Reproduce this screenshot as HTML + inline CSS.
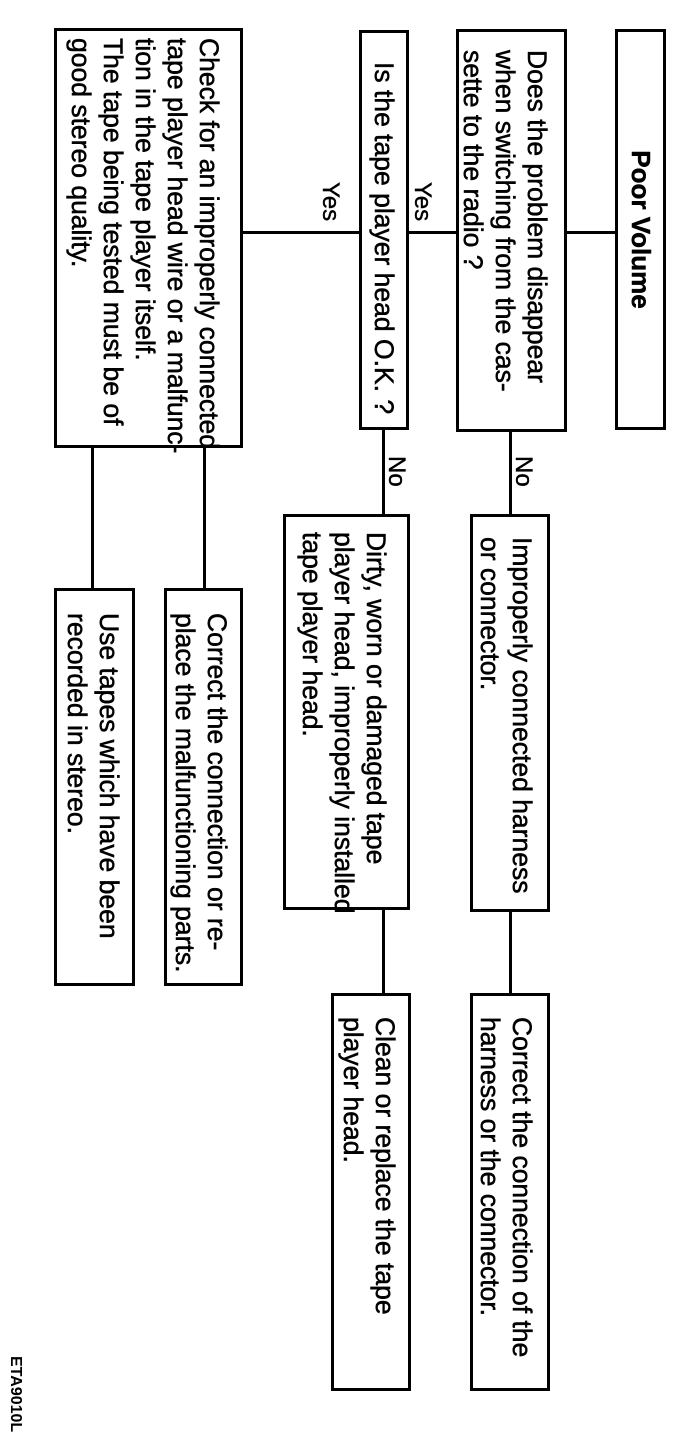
<!DOCTYPE html>
<html><head><meta charset="utf-8"><style>
body{margin:0;background:#fff;}
#c{position:relative;width:674px;height:1456px;overflow:hidden;background:#fff;font-family:"Liberation Sans",Arial,sans-serif;color:#000;}
.b{position:absolute;border:3px solid #000;box-sizing:border-box;}
.t{position:absolute;transform-origin:0 0;transform:rotate(90deg);font-size:26.5px;line-height:32px;white-space:nowrap;box-sizing:border-box;-webkit-text-stroke:0.5px #000;}
.l{position:absolute;background:#000;}
.lab{position:absolute;transform-origin:0 0;transform:rotate(90deg);font-size:24px;line-height:22px;white-space:nowrap;-webkit-text-stroke:0.4px #000;}
</style></head><body><div id="c">
<div class="b" style="left:615px;top:29px;width:51px;height:401px"></div>
<div class="t" style="left:666px;top:29px;width:401px;height:51px;text-align:center;font-weight:bold;font-size:26px;padding-top:9px">Poor Volume</div>

<div class="b" style="left:456px;top:29px;width:111px;height:403px"></div>
<div class="t" style="left:567px;top:29px;width:403px;height:111px;padding:14px 0 0 21px">Does the problem disappear<br>when switching from the cas-<br>sette to the radio ?</div>

<div class="b" style="left:359px;top:30px;width:50px;height:400px"></div>
<div class="t" style="left:409px;top:30px;width:400px;height:50px;padding:9px 0 0 32px">Is the tape player head O.K. ?</div>

<div class="b" style="left:54px;top:28px;width:189px;height:420px"></div>
<div class="t" style="left:243px;top:28px;width:420px;height:189px;padding:18px 0 0 10px">Check for an improperly connected<br>tape player head wire or a malfunc-<br>tion in the tape player itself.<br>The tape being tested must be of<br>good stereo quality.</div>

<div class="b" style="left:470px;top:514px;width:80px;height:398px"></div>
<div class="t" style="left:550px;top:514px;width:398px;height:80px;padding:12px 0 0 23px">Improperly connected harness<br>or connector.</div>

<div class="b" style="left:283px;top:514px;width:127px;height:396px"></div>
<div class="t" style="left:410px;top:514px;width:396px;height:127px;padding:18px 0 0 18px">Dirty, worn or damaged tape<br>player head, improperly installed<br>tape player head.</div>

<div class="b" style="left:164px;top:588px;width:79px;height:398px"></div>
<div class="t" style="left:243px;top:588px;width:398px;height:79px;padding:10px 0 0 25px">Correct the connection or re-<br>place the malfunctioning parts.</div>

<div class="b" style="left:54px;top:588px;width:81px;height:398px"></div>
<div class="t" style="left:135px;top:588px;width:398px;height:81px;padding:10px 0 0 25px">Use tapes which have been<br>recorded in stereo.</div>

<div class="b" style="left:470px;top:993px;width:80px;height:398px"></div>
<div class="t" style="left:550px;top:993px;width:398px;height:80px;padding:12px 0 0 24px">Correct the connection of the<br>harness or the connector.</div>

<div class="b" style="left:331px;top:993px;width:80px;height:398px"></div>
<div class="t" style="left:411px;top:993px;width:398px;height:80px;padding:10px 0 0 24px">Clean or replace the tape<br>player head.</div>

<div class="l" style="left:567px;top:231px;width:48px;height:3px"></div>
<div class="l" style="left:409px;top:231px;width:47px;height:3px"></div>
<div class="l" style="left:243px;top:231px;width:116px;height:3px"></div>
<div class="l" style="left:509px;top:432px;width:3px;height:82px"></div>
<div class="l" style="left:382px;top:430px;width:3px;height:84px"></div>
<div class="l" style="left:203px;top:448px;width:3px;height:140px"></div>
<div class="l" style="left:91px;top:448px;width:3px;height:140px"></div>
<div class="l" style="left:509px;top:912px;width:3px;height:81px"></div>
<div class="l" style="left:382px;top:910px;width:3px;height:83px"></div>

<div class="lab" style="left:433px;top:182px">Yes</div>
<div class="lab" style="left:341px;top:182px">Yes</div>
<div class="lab" style="left:534px;top:456px">No</div>
<div class="lab" style="left:407px;top:456px">No</div>
<div class="lab" style="left:22px;top:1356px;font-size:16px;line-height:14px;font-weight:bold;-webkit-text-stroke:0">ETA9010L</div>
</div></body></html>
